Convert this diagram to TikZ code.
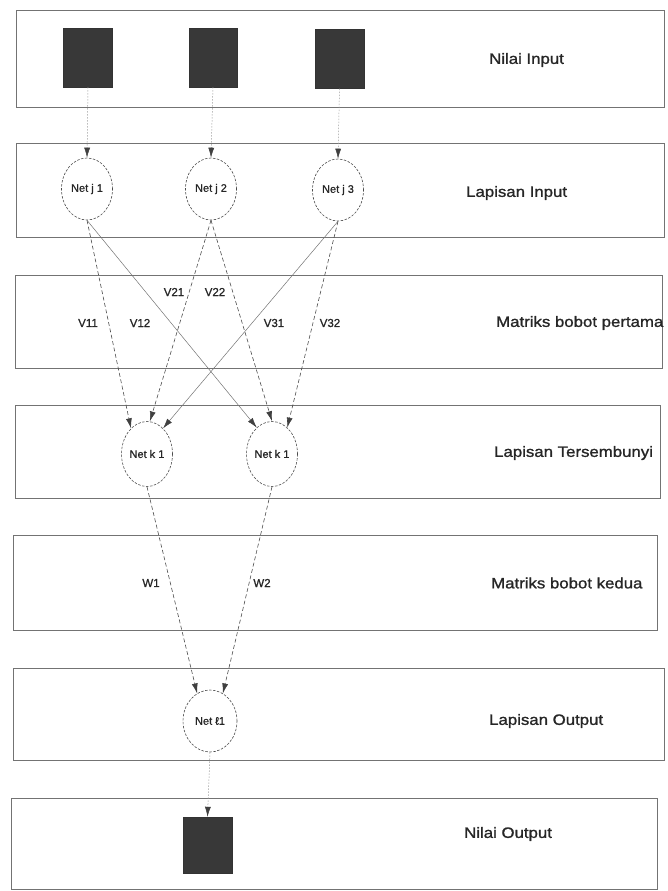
\documentclass[tikz,border=0pt]{standalone}
\usepackage{fontspec}
\setmainfont{Liberation Sans}
\newfontfamily\lblfont[FakeStretch=1.12,FakeBold=1.2]{Liberation Sans}
\newfontfamily\tagfont[FakeBold=1.0]{Liberation Sans}
\usetikzlibrary{shapes.geometric,arrows.meta}

\begin{document}
\begin{tikzpicture}[x=1pt,y=-1pt,
  layer/.style={draw=black!55, line width=0.8pt},
  unit/.style={draw=black!70, dash pattern=on 2.5pt off 1.5pt, line width=0.6pt,
    ellipse, minimum width=51pt, minimum height=63pt, inner sep=0pt},
  unittext/.style={font=\tagfont\fontsize{11}{13}\selectfont, text=black!85, inner sep=0pt},
  val/.style={fill=black!78, draw=black!80, minimum width=49pt, minimum height=59pt, inner sep=0pt},
  layername/.style={font=\lblfont\fontsize{15}{17}\selectfont, anchor=west, text=black!85, inner sep=0pt},
  wlbl/.style={font=\tagfont\fontsize{11.5}{13}\selectfont, text=black!85, inner sep=0pt},
  tip/.style={-{Latex[length=10pt,width=6pt,color=black!75]}},
  conn/.style={tip, draw=black!70, line width=0.6pt, dash pattern=on 4pt off 2.5pt},
  cross/.style={tip, draw=black!55, line width=0.5pt},
  feed/.style={tip, draw=black!40, line width=0.5pt, dash pattern=on 1.5pt off 1.5pt}
]
\useasboundingbox (0,0) rectangle (667,891);

% layer frames
\draw[layer] (16,10) rectangle (664,107);
\draw[layer] (16,143) rectangle (664,237);
\draw[layer] (15,275) rectangle (662,368);
\draw[layer] (15,405) rectangle (660,498);
\draw[layer] (13,535) rectangle (657,630);
\draw[layer] (13,668) rectangle (664,760);
\draw[layer] (11,798) rectangle (657,889);

% layer names
\node[layername] (n1) at (489,60) {Nilai Input};
\node[layername] (n2) at (466,193) {Lapisan Input};
\node[layername] (n3) at (496,323) {Matriks bobot pertama};
\node[layername] (n4) at (494,453) {Lapisan Tersembunyi};
\node[layername] (n5) at (491,583) {Matriks bobot kedua};
\node[layername] (n6) at (489,721) {Lapisan Output};
\node[layername] (n7) at (464,834) {Nilai Output};

% input values
\node[val] (s1) at (88,57.5) {};
\node[val, minimum width=48pt] (s2) at (213,57.5) {};
\node[val] (s3) at (339.5,59) {};

% input layer
\node[unit, minimum height=62pt, label={[unittext]center:Net j 1}] (j1) at (87,189) {};
\node[unit, minimum height=62pt, label={[unittext]center:Net j 2}] (j2) at (211,189) {};
\node[unit, minimum height=62pt, label={[unittext]center:Net j 3}] (j3) at (338,190) {};

% hidden layer
\node[unit, minimum height=65pt, label={[unittext]center:Net k 1}] (k1) at (147,454) {};
\node[unit, minimum height=65pt, label={[unittext]center:Net k 1}] (k2) at (272,454) {};

% output layer
\node[unit, minimum width=54pt, minimum height=62pt, label={[unittext]center:Net ℓ1}] (l1) at (210,721) {};

% output value
\node[val, minimum height=56pt] (out) at (207.5,845) {};

% values into input layer
\draw[feed] (s1.south) -- (j1.north);
\draw[feed] (s2.south) -- (j2.north);
\draw[feed] (s3.south) -- (j3.north);

% first weight matrix
\draw[conn]  (j1.south) -- (k1.122);
\draw[cross] (j1.south) -- (k2.120);
\draw[conn]  (j2.south) -- (k1.85);
\draw[conn]  (j2.south) -- (k2.north);
\draw[cross] (j3.south) -- (k1.58);
\draw[conn]  (j3.south) -- (k2.60);

% second weight matrix
\draw[conn] (k1.south) -- (l1.115);
\draw[conn] (k2.south) -- (l1.65);

% result
\draw[feed] (l1.south) -- (out.north);

% weight labels
\node[wlbl] (v11) at (88,323) {V11};
\node[wlbl] (v12) at (140,323) {V12};
\node[wlbl] (v21) at (174,292) {V21};
\node[wlbl] (v22) at (215,292) {V22};
\node[wlbl] (v31) at (274,323) {V31};
\node[wlbl] (v32) at (330,323) {V32};
\node[wlbl] (w1) at (151,583) {W1};
\node[wlbl] (w2) at (262,583) {W2};
\end{tikzpicture}
\end{document}
